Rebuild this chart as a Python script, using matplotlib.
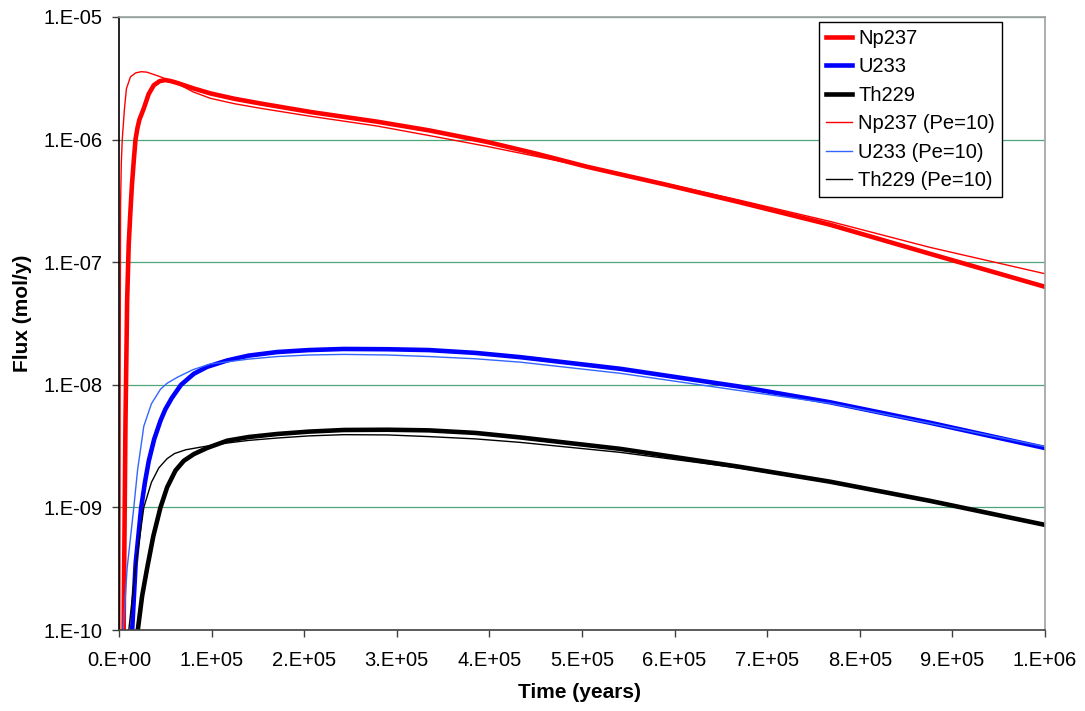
import numpy as np
import matplotlib
matplotlib.use('Agg')
import matplotlib.pyplot as plt
from matplotlib.ticker import FuncFormatter, FixedLocator

plt.rcParams['font.family'] = ['Liberation Sans', 'DejaVu Sans']

# Daten (Zeit in Jahren, Fluss in mol/y)
np237_t = [4.5e3, 5e3, 7e3, 8.8e3, 10.5e3, 12.4e3, 14e3, 16e3, 17.8e3, 20e3, 22e3, 26.8e3, 32e3,
           37.6e3, 44e3, 50e3, 56e3, 62.8e3, 80.8e3, 98.8e3, 125e3, 152.8e3, 206.8e3, 278.8e3,
           334.6e3, 397.6e3, 450e3, 505.6e3, 590e3, 669e3, 768e3, 876e3, 1e6]
np237_y = [5e-11, 1e-10, 5e-9, 4.9e-8, 1.4e-7, 2.65e-7, 4.3e-7, 6.8e-7, 1.0e-6, 1.25e-6, 1.45e-6, 1.8e-6, 2.35e-6,
           2.78e-6, 3.0e-6, 3.06e-6, 3.0e-6, 2.9e-6, 2.61e-6, 2.38e-6, 2.15e-6, 1.97e-6, 1.68e-6, 1.40e-6,
           1.19e-6, 9.57e-7, 7.7e-7, 6.0e-7, 4.3e-7, 3.1e-7, 2.02e-7, 1.17e-7, 6.3e-8]

u233_t = [13e3, 14.2e3, 18e3, 24e3, 28e3, 32.2e3, 38e3, 44.8e3, 50e3, 57e3, 67e3, 80.8e3, 95e3,
          116.8e3, 140e3, 170.8e3, 205e3, 242.8e3, 290e3, 334.6e3, 385e3, 433.5e3, 541.6e3,
          669e3, 768e3, 876e3, 1e6]
u233_y = [6e-11, 1e-10, 3.5e-10, 1e-9, 1.6e-9, 2.4e-9, 3.6e-9, 5.1e-9, 6.3e-9, 7.8e-9, 1e-8, 1.23e-8, 1.40e-8,
          1.58e-8, 1.73e-8, 1.85e-8, 1.92e-8, 1.96e-8, 1.95e-8, 1.92e-8, 1.82e-8, 1.68e-8, 1.35e-8,
          9.7e-9, 7.2e-9, 4.9e-9, 3.05e-9]

th229_t = [19e3, 20.3e3, 25e3, 30.4e3, 37e3, 44.8e3, 52e3, 61e3, 70e3, 80.8e3, 95e3, 116.8e3, 140e3,
           170.8e3, 205e3, 242.8e3, 290e3, 334.6e3, 385e3, 433.5e3, 541.6e3, 669e3, 768e3, 876e3, 1e6]
th229_y = [6e-11, 1e-10, 1.9e-10, 3.2e-10, 5.8e-10, 1e-9, 1.46e-9, 2.0e-9, 2.4e-9, 2.72e-9, 3.05e-9, 3.5e-9, 3.75e-9,
           3.97e-9, 4.15e-9, 4.28e-9, 4.3e-9, 4.25e-9, 4.05e-9, 3.72e-9, 3.0e-9, 2.15e-9, 1.62e-9, 1.13e-9, 7.2e-10]

np237_pe_t = [0.8e3, 1.2e3, 1.7e3, 2.5e3, 3.5e3, 5.8e3, 8e3, 12.4e3, 18e3, 24e3, 30e3, 35e3, 44.8e3,
              62.8e3, 80e3, 98.8e3, 125e3, 152.8e3, 206.8e3, 278.8e3, 334.6e3, 397.6e3, 505.6e3,
              541.6e3, 669e3, 768e3, 876e3, 1e6]
np237_pe_y = [5e-11, 1e-8, 3e-7, 6.5e-7, 1.0e-6, 1.75e-6, 2.6e-6, 3.25e-6, 3.5e-6, 3.58e-6, 3.55e-6, 3.45e-6, 3.25e-6,
              2.87e-6, 2.45e-6, 2.17e-6, 1.96e-6, 1.80e-6, 1.55e-6, 1.29e-6, 1.08e-6, 8.8e-7, 6.0e-7,
              5.3e-7, 3.22e-7, 2.15e-7, 1.32e-7, 8.05e-8]

u233_pe_t = [3.5e3, 4.5e3, 8.8e3, 16e3, 20e3, 26.8e3, 35e3, 44.8e3, 52e3, 62.8e3, 80e3, 98.8e3, 140e3,
             170.8e3, 205e3, 242.8e3, 290e3, 334.6e3, 385e3, 433.5e3, 541.6e3, 669e3, 768e3, 876e3, 1e6]
u233_pe_y = [6e-11, 1e-10, 3.2e-10, 1e-9, 2e-9, 4.6e-9, 7e-9, 9.2e-9, 1.03e-8, 1.15e-8, 1.33e-8, 1.48e-8, 1.62e-8,
             1.70e-8, 1.75e-8, 1.77e-8, 1.75e-8, 1.70e-8, 1.63e-8, 1.53e-8, 1.24e-8, 9.0e-9, 7.06e-9, 4.85e-9, 3.13e-9]

th229_pe_t = [9.5e3, 10.6e3, 17.8e3, 26.8e3, 35e3, 43e3, 52e3, 60e3, 72e3, 88e3, 116.8e3, 140e3, 170.8e3,
              205e3, 242.8e3, 290e3, 334.6e3, 385e3, 433.5e3, 541.6e3, 669e3, 768e3, 876e3, 1e6]
th229_pe_y = [6e-11, 1e-10, 3.2e-10, 1e-9, 1.6e-9, 2.1e-9, 2.5e-9, 2.75e-9, 2.95e-9, 3.1e-9, 3.35e-9, 3.52e-9, 3.68e-9,
              3.83e-9, 3.92e-9, 3.9e-9, 3.78e-9, 3.62e-9, 3.39e-9, 2.81e-9, 2.1e-9, 1.60e-9, 1.13e-9, 7.2e-10]

x_ticks = [0, 1e5, 2e5, 3e5, 4e5, 5e5, 6e5, 7e5, 8e5, 9e5, 1e6]
y_ticks = [1e-10, 1e-9, 1e-8, 1e-7, 1e-6, 1e-5]


def excel_sci(v, pos=None):
    m, e = f"{v:.0E}".split('E')
    return f"{m}.E{e}"


fig = plt.figure(figsize=(10.85, 7.11), dpi=100)
ax = fig.add_axes([119 / 1085, 1 - 630 / 711, 926 / 1085, 613 / 711])

ax.plot(np237_t, np237_y, color='#ff0000', lw=3.3, label='Np237')
ax.plot(u233_t, u233_y, color='#0000ff', lw=3.3, label='U233')
ax.plot(th229_t, th229_y, color='#000000', lw=3.3, label='Th229')
ax.plot(np237_pe_t, np237_pe_y, color='#ff0000', lw=1.0, label='Np237 (Pe=10)')
ax.plot(u233_pe_t, u233_pe_y, color='#3366ff', lw=1.0, label='U233 (Pe=10)')
ax.plot(th229_pe_t, th229_pe_y, color='#000000', lw=1.0, label='Th229 (Pe=10)')

ax.set_yscale('log')
ax.set_xlim(0, 1e6)
ax.set_ylim(1e-10, 1e-5)
ax.xaxis.set_major_locator(FixedLocator(x_ticks))
ax.yaxis.set_major_locator(FixedLocator(y_ticks))
ax.yaxis.set_minor_locator(FixedLocator([]))
ax.xaxis.set_major_formatter(FuncFormatter(excel_sci))
ax.yaxis.set_major_formatter(FuncFormatter(excel_sci))
ax.tick_params(axis='both', direction='out', length=5, width=1, labelsize=14.5, color='#404040')
ax.tick_params(axis='x', pad=10)
ax.tick_params(axis='y', pad=7)

ax.grid(axis='y', color='#4da57a', lw=0.9)
ax.set_axisbelow(True)

ax.spines['left'].set_color('black')
ax.spines['bottom'].set_color('#404040')
ax.spines['top'].set_color('#a0a0a0')
ax.spines['right'].set_color('#a0a0a0')
for s in ax.spines.values():
    s.set_linewidth(1.2)

fig.text(579 / 1085, 1 - 693 / 711, 'Time (years)', ha='center', va='center',
         fontsize=15, fontweight='bold')
fig.text(22 / 1085, 1 - 313 / 711, 'Flux (mol/y)', ha='center', va='center',
         rotation=90, fontsize=15, fontweight='bold')

leg = ax.legend(loc='upper right', bbox_to_anchor=(1002 / 1085, 1 - 21.7 / 711),
                bbox_transform=fig.transFigure, fontsize=14.5, frameon=True, fancybox=False,
                edgecolor='black', framealpha=1, handlelength=1.3, handletextpad=0.3,
                labelspacing=0.47, borderpad=0.35, borderaxespad=0)
leg.get_frame().set_linewidth(1.0)

fig.savefig('out.png', dpi=100)
